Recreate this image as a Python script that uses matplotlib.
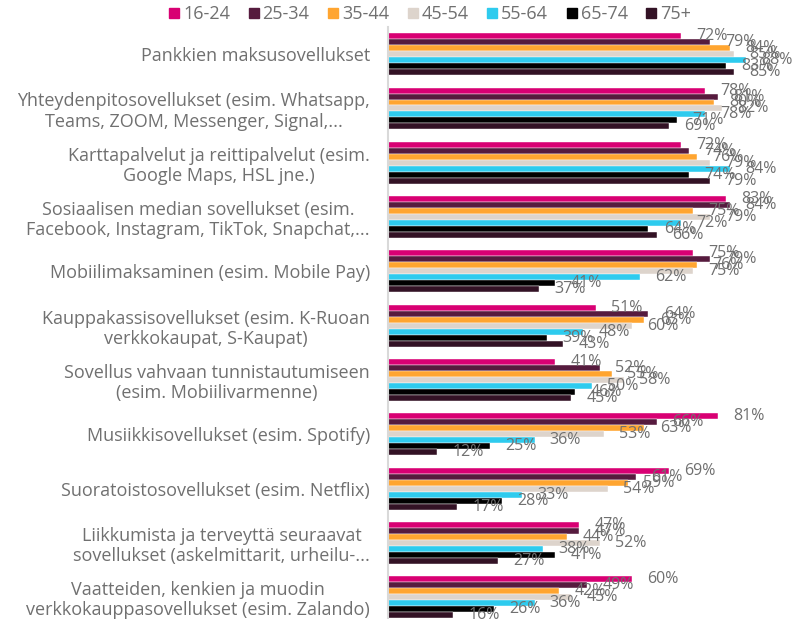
import numpy as np
import matplotlib.pyplot as plt
from matplotlib.lines import Line2D

categories = [
    'Pankkien maksusovellukset',
    'Yhteydenpitosovellukset (esim. Whatsapp,\nTeams, ZOOM, Messenger, Signal,...',
    'Karttapalvelut ja reittipalvelut (esim.\nGoogle Maps, HSL jne.)',
    'Sosiaalisen median sovellukset (esim.\nFacebook, Instagram, TikTok, Snapchat,...',
    'Mobiilimaksaminen (esim. Mobile Pay)',
    'Kauppakassisovellukset (esim. K-Ruoan\nverkkokaupat, S-Kaupat)',
    'Sovellus vahvaan tunnistautumiseen\n(esim. Mobiilivarmenne)',
    'Musiikkisovellukset (esim. Spotify)',
    'Suoratoistosovellukset (esim. Netflix)',
    'Liikkumista ja terveyttä seuraavat\nsovellukset (askelmittarit, urheilu-...',
    'Vaatteiden, kenkien ja muodin\nverkkokauppasovellukset (esim. Zalando)',
]
age_groups = ['16-24', '25-34', '35-44', '45-54', '55-64', '65-74', '75+']

v_16_24 = [72, 78, 72, 83, 75, 51, 41, 81, 69, 47, 60]
v_25_34 = [79, 81, 74, 84, 79, 64, 52, 66, 61, 47, 49]
v_35_44 = [84, 80, 76, 75, 76, 63, 55, 63, 59, 44, 42]
v_45_54 = [85, 82, 79, 79, 75, 60, 58, 53, 54, 52, 45]
v_55_64 = [88, 78, 84, 72, 62, 48, 50, 36, 33, 38, 36]
v_65_74 = [83, 71, 74, 64, 41, 39, 46, 25, 28, 41, 26]
v_75 = [85, 69, 79, 66, 37, 43, 45, 12, 17, 27, 16]

series = [v_16_24, v_25_34, v_35_44, v_45_54, v_55_64, v_65_74, v_75]
colors = ['#D80073', '#561B3E', '#FFA530', '#DDD4CC', '#2ECBEE', '#000000', '#331225']

plt.rcParams['font.family'] = ['Open Sans', 'DejaVu Sans']
grey = '#707070'

fig = plt.figure(figsize=(7.95, 6.19), dpi=100)
ax = fig.add_axes([388 / 795, 0, 407 / 795, 1 - 27 / 619])

y = np.arange(len(categories))
h = 0.11
for i, (vals, col) in enumerate(zip(series, colors)):
    pos = y + (i - 3) * h
    ax.barh(pos, vals, height=h, color=col, edgecolor='white', linewidth=0.3)
    for p, v in zip(pos, vals):
        ax.annotate(f'{v}%', (v, p), xytext=(11, 0), textcoords='offset points',
                    va='center', ha='left', fontsize=11.5, color=grey,
                    annotation_clip=False)

ax.set_xlim(0, 100)
ax.set_ylim(10.4, -0.5)
ax.set_yticks(y)
ax.set_yticklabels(categories, multialignment='center', color=grey, fontsize=13,
                   linespacing=1.15)
ax.tick_params(axis='y', length=0, pad=13)
ax.set_xticks([])
for s in ['top', 'right', 'bottom']:
    ax.spines[s].set_visible(False)
ax.spines['left'].set_color('#d9d9d9')
ax.spines['left'].set_linewidth(1.5)

handles = [Line2D([], [], marker='s', linestyle='', color=c, markersize=7) for c in colors]
fig.legend(handles, age_groups, loc='center', bbox_to_anchor=(430 / 795, 1 - 14 / 619),
           ncol=7, frameon=False, fontsize=13, labelcolor=grey, handlelength=0.6,
           handletextpad=0.2, columnspacing=1.0)

fig.savefig('out.png', dpi=100)
